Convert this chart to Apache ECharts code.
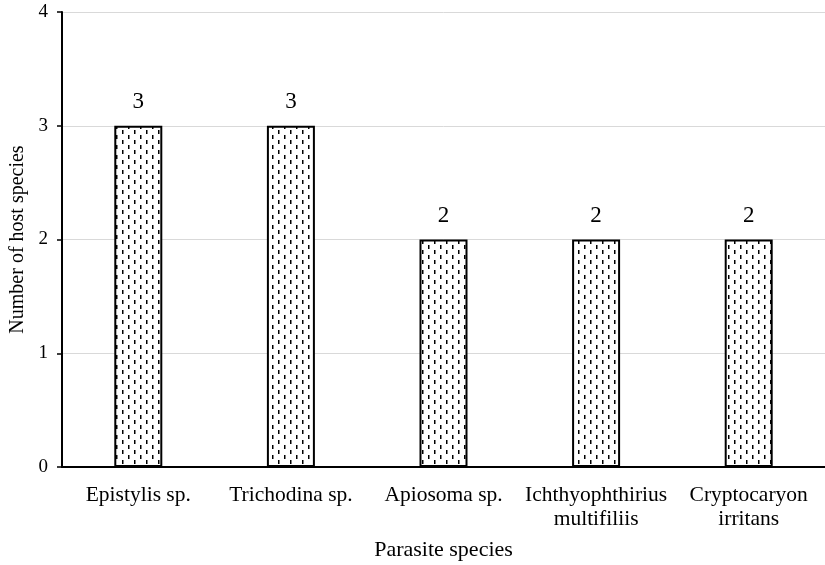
<!DOCTYPE html>
<html><head><meta charset="utf-8">
<script src="https://cdn.jsdelivr.net/npm/echarts@6/dist/echarts.min.js"></script>
<style>html,body{margin:0;padding:0;background:#fff}#c{width:825px;height:565px}</style>
</head><body><div id="c"></div>
<script>
const categories = ["Epistylis sp.", "Trichodina sp.", "Apiosoma sp.", "Ichthyophthirius\nmultifiliis", "Cryptocaryon\nirritans"];
const hostCounts = [3, 3, 2, 2, 2];
const yTicks = [0, 1, 2, 3, 4];

// dashed pattern tile
const tile = document.createElement('canvas');
tile.width = 12; tile.height = 10;
const g = tile.getContext('2d');
g.fillStyle = '#fff'; g.fillRect(0, 0, 12, 10);
g.fillStyle = '#000';
g.fillRect(2, 0, 1.5, 4);
g.fillRect(8, 5, 1.5, 4);

const font = '"Liberation Serif", "Times New Roman", serif';
const chart = echarts.init(document.getElementById('c'), null, {renderer: 'canvas'});
chart.setOption({
  animation: false,
  backgroundColor: '#fff',
  grid: {left: 62, right: 0, top: 12, bottom: 98, containLabel: false, outerBoundsMode: 'none'},
  xAxis: {
    type: 'category', data: categories,
    name: 'Parasite species', nameLocation: 'middle', nameGap: 72,
    nameTextStyle: {fontFamily: font, fontSize: 22, color: '#000'},
    axisLine: {lineStyle: {color: '#000', width: 2}},
    axisTick: {inside: true, length: 5, lineStyle: {color: '#000', width: 1.5}},
    axisLabel: {fontFamily: font, fontSize: 21.5, color: '#000', margin: 16, lineHeight: 24, interval: 0}
  },
  yAxis: {
    type: 'value', min: 0, max: 4, interval: 1,
    name: 'Number of host species', nameLocation: 'middle', nameGap: 33,
    nameTextStyle: {fontFamily: font, fontSize: 20, color: '#000'},
    axisLine: {show: true, lineStyle: {color: '#000', width: 2}},
    axisTick: {show: true, length: 5, lineStyle: {color: '#000', width: 1.5}},
    axisLabel: {fontFamily: font, fontSize: 19, color: '#000', margin: 14,
      formatter: v => yTicks.includes(v) ? String(v) : ''},
    splitLine: {lineStyle: {color: '#d9d9d9', width: 1}}
  },
  series: [{
    type: 'bar', data: hostCounts, barWidth: 48,
    itemStyle: {color: {image: tile, repeat: 'repeat'}, borderColor: '#000', borderWidth: 2},
    label: {show: true, position: 'top', distance: 12, fontFamily: font, fontSize: 23, color: '#000'}
  }]
});
</script></body></html>
